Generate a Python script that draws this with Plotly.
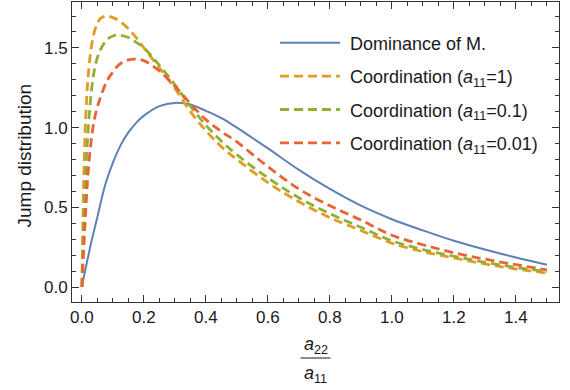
import plotly.graph_objects as go

# ---- data ----
x_dom = [0, 0.01, 0.02, 0.03, 0.04, 0.05, 0.075, 0.1, 0.125, 0.15, 0.175, 0.2, 0.25, 0.3,
         0.35, 0.4, 0.45, 0.5, 0.55, 0.6, 0.7, 0.8, 0.9, 1.0, 1.1, 1.2, 1.3, 1.4, 1.5]
y_dom = [0, 0.10, 0.19, 0.28, 0.36, 0.44, 0.64, 0.78, 0.89, 0.97, 1.03, 1.075, 1.135, 1.155,
         1.145, 1.105, 1.06, 1.0, 0.935, 0.87, 0.735, 0.615, 0.51, 0.425, 0.355, 0.29, 0.235, 0.185, 0.14]

x_coord = [0, 0.005, 0.01, 0.015, 0.02, 0.03, 0.04, 0.05, 0.06, 0.08, 0.1, 0.12, 0.15, 0.175, 0.2,
           0.25, 0.3, 0.35, 0.4, 0.45, 0.5, 0.6, 0.7, 0.8, 0.9, 1.0, 1.1, 1.2, 1.3, 1.4, 1.5]
y_a1 = [0, 0.60, 0.95, 1.17, 1.32, 1.50, 1.60, 1.655, 1.685, 1.70, 1.69, 1.67, 1.62, 1.565, 1.50,
        1.375, 1.245, 1.10, 0.98, 0.88, 0.80, 0.655, 0.535, 0.435, 0.355, 0.275, 0.222, 0.183, 0.145, 0.113, 0.088]
y_a01 = [0, 0.35, 0.60, 0.82, 0.98, 1.22, 1.36, 1.44, 1.49, 1.55, 1.575, 1.58, 1.565, 1.535, 1.50,
         1.39, 1.27, 1.135, 1.015, 0.915, 0.83, 0.685, 0.56, 0.46, 0.375, 0.29, 0.235, 0.193, 0.155, 0.123, 0.097]
y_a001 = [0, 0.20, 0.40, 0.57, 0.72, 0.92, 1.05, 1.13, 1.19, 1.29, 1.35, 1.395, 1.425, 1.43, 1.42,
          1.355, 1.26, 1.15, 1.05, 0.975, 0.91, 0.755, 0.615, 0.51, 0.42, 0.325, 0.265, 0.215, 0.175, 0.14, 0.108]

names = ["Dominance of M.",
         "Coordination (<i>a</i><sub>11</sub>=1)",
         "Coordination (<i>a</i><sub>11</sub>=0.1)",
         "Coordination (<i>a</i><sub>11</sub>=0.01)"]
colors = ["#5E81B5", "#E19C24", "#8FB032", "#EB6235"]

x_ticks = [0.0, 0.2, 0.4, 0.6, 0.8, 1.0, 1.2, 1.4]
y_ticks = [0.0, 0.5, 1.0, 1.5]

FONT = "Liberation Sans, Arial, sans-serif"
TXT = "#1a1a1a"

fig = go.Figure()
fig.add_trace(go.Scatter(x=x_dom, y=y_dom, mode="lines", name="\u00a0" + names[0],
                         line=dict(color=colors[0], width=2, shape="spline"),
                         legendgroup="g0"))
for i, ys in enumerate([y_a1, y_a01, y_a001]):
    fig.add_trace(go.Scatter(x=x_coord, y=ys, mode="lines", name="\u00a0" + names[i + 1],
                             line=dict(color=colors[i + 1], width=2.8, dash="9px,5px", shape="spline"),
                             legendgroup="g%d" % (i + 1)))

axis_common = dict(showline=True, linecolor="#333333", linewidth=1, mirror="allticks",
                   ticks="inside", ticklen=7, tickwidth=1, tickcolor="#333333",
                   showgrid=False, zeroline=False,
                   tickfont=dict(family=FONT, size=17, color=TXT))

fig.update_layout(
    width=570, height=390,
    margin=dict(l=72, r=11, t=2, b=88),
    paper_bgcolor="white", plot_bgcolor="white",
    font=dict(family=FONT, size=17, color=TXT),
    xaxis=dict(range=[-0.032, 1.539], tickvals=x_ticks, ticktext=["%.1f" % v for v in x_ticks],
               minor=dict(ticks="inside", dtick=0.05, tick0=0, ticklen=4, tickcolor="#333333"),
               **axis_common),
    yaxis=dict(range=[-0.094, 1.788], tickvals=y_ticks, ticktext=["%.1f" % v for v in y_ticks],
               minor=dict(ticks="inside", dtick=0.1, tick0=0, ticklen=4, tickcolor="#333333"),
               **axis_common),
    legend=dict(x=(275 - 72) / 487, y=0.925, xanchor="left", yanchor="top", bgcolor="rgba(0,0,0,0)",
                font=dict(family=FONT, size=18, color=TXT),
                itemwidth=60, tracegroupgap=7, traceorder="grouped"),
    showlegend=True,
)

# y-axis title
fig.add_annotation(text="Jump distribution", xref="paper", yref="paper",
                   x=(23.5 - 72) / 487, y=(302 - 156) / 300, xanchor="center", yanchor="middle",
                   textangle=-90, showarrow=False, font=dict(family=FONT, size=19, color=TXT))
# x-axis title as a stacked fraction a22 / a11
fig.add_annotation(text="<i>a</i><sub>22</sub>", xref="paper", yref="paper",
                   x=0.5, y=-(345 - 302) / 300, xanchor="center", yanchor="middle",
                   showarrow=False, font=dict(family=FONT, size=18, color=TXT))
fig.add_annotation(text="<i>a</i><sub>11</sub>", xref="paper", yref="paper",
                   x=0.5, y=-(374 - 302) / 300, xanchor="center", yanchor="middle",
                   showarrow=False, font=dict(family=FONT, size=18, color=TXT))
fig.add_shape(type="line", xref="paper", yref="paper",
              x0=0.5 - 15 / 487, x1=0.5 + 15 / 487, y0=-(358 - 302) / 300, y1=-(358 - 302) / 300,
              line=dict(color=TXT, width=1))

fig.write_html("out.html")
